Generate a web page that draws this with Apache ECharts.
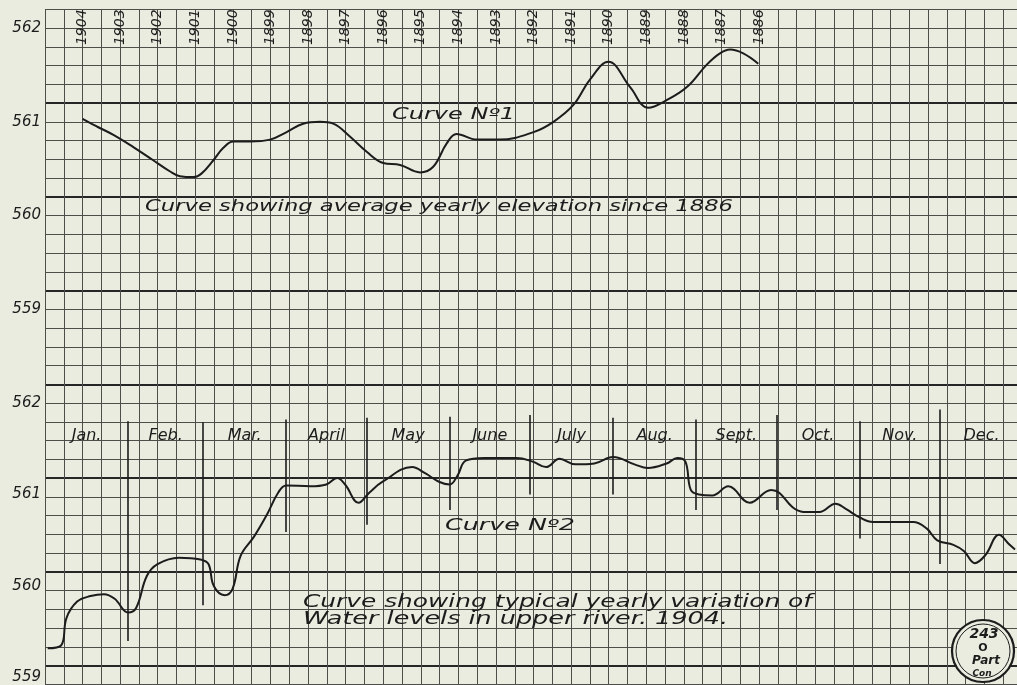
<!DOCTYPE html>
<html>
<head>
<meta charset="utf-8">
<script src="https://cdn.jsdelivr.net/npm/echarts@6/dist/echarts.min.js"></script>
<style>
html,body{margin:0;padding:0;background:#e9ecdf;}
#chart{width:1017px;height:685px;}
</style>
</head>
<body>
<div id="chart"></div>
<script>
// ---------- DATA ----------
const yearTicks = [1904,1903,1902,1901,1900,1899,1898,1897,1896,1895,1894,1893,1892,1891,1890,1889,1888,1887,1886];

const curve1Years = [1904,1903.62,1903.18,1902.65,1902.12,1901.67,1901.41,1901.05,1900.83,1900.52,1900.26,1899.99,1899.55,1899.01,1898.57,1898.13,1897.68,1897.33,1896.88,1896.44,1896.0,1895.55,1895.02,1894.67,1894.31,1894.05,1893.51,1892.89,1892.0,1891.47,1890.94,1890.5,1890.01,1889.43,1888.95,1888.46,1887.92,1887.39,1887.04,1886.77,1886.42,1886.02];
const curve1Values = [561.03,560.95,560.86,560.73,560.59,560.47,560.42,560.41,560.45,560.59,560.72,560.79,560.79,560.81,560.89,560.98,561.0,560.98,560.84,560.68,560.56,560.54,560.46,560.52,560.77,560.87,560.81,560.81,560.89,561.0,561.18,561.45,561.64,561.37,561.15,561.23,561.37,561.61,561.73,561.77,561.73,561.62];

const curve2Days = [1,6,8,12,17,22,26,31,34,38,42,50,58,61,63,67,70,73,78,83,87,90,99,105,109,112,117,121,126,137,142,147,151,154,157,164,176,182,187,192,198,205,212,220,225,232,236,239,241,244,249,255,263,271,274,279,283,289,295,299,304,309,324,329,333,339,343,347,351,356,360,362];
const curve2Values = [559.32,559.35,559.65,559.83,559.89,559.91,559.86,559.71,559.76,560.11,560.24,560.31,560.29,560.24,560.0,559.90,559.97,560.33,560.54,560.79,561.02,561.10,561.09,561.11,561.18,561.11,560.91,561.02,561.14,561.30,561.23,561.14,561.11,561.21,561.37,561.40,561.40,561.36,561.30,561.39,561.33,561.34,561.41,561.33,561.29,561.34,561.40,561.36,561.05,561.0,560.99,561.09,560.91,561.05,561.02,560.86,560.81,560.81,560.90,560.84,560.75,560.70,560.70,560.63,560.50,560.45,560.38,560.25,560.34,560.56,560.45,560.40];

const monthNames = ['Jan.','Feb.','Mar.','April','May','June','July','Aug.','Sept.','Oct.','Nov.','Dec.'];
const monthStartDays = [0,31,59,90,120,151,181,212,243,273,304,334,365];
// month divider strokes (elevation extent of each hand-drawn divider, Feb..Dec)
const dividerTop    = [561.80,561.79,561.82,561.84,561.85,561.87,561.84,561.82,561.87,561.80,561.93];
const dividerBottom = [559.40,559.79,560.59,560.67,560.83,561.00,561.00,560.83,560.83,560.52,560.24];

// ---------- LAYOUT CONSTANTS ----------
const INK = '#1c1c1c';
const FONT = '"DejaVu Sans", sans-serif';
const ROW = 18.75, COL = 18.79;
const LEFT = 45, GRID_TOP = 9.3;
const bgRows = (685 - GRID_TOP) / ROW;
const bgCols = (1017 - LEFT) / COL;

const chart = echarts.init(document.getElementById('chart'), null, {renderer:'canvas'});

const measureCtx = document.createElement('canvas').getContext('2d');
function fitText(text, x, yMid, width, size, weight) {
  const font = `italic ${weight||'normal'} ${size}px ${FONT}`;
  measureCtx.font = font;
  const w = measureCtx.measureText(text).width;
  return {
    type:'text', x:x, y:yMid, scaleX: width / w, silent:true, z:50,
    style:{text:text, font:font, fill:INK, textAlign:'left', textVerticalAlign:'middle', align:'left', verticalAlign:'middle'}
  };
}

const elevLabel = {
  fontSize:15, fontStyle:'italic', color:INK, fontFamily:'DejaVu Sans', margin:4,
  padding:[0,0,6,0],
  formatter: v => Number.isInteger(v) ? String(v) : ''
};

const monthLabelData = monthNames.map((m,i) => [(monthStartDays[i] + monthStartDays[i+1]) / 2, 561.64]);

const option = {
  backgroundColor:'#e9ecdf',
  animation:false,
  grid:[
    {left:LEFT, right:0, top:GRID_TOP, bottom:0},
    {left:LEFT + 2*COL, right:1017 - (LEFT + 38*COL), top:GRID_TOP + ROW, height:15*ROW},
    {left:LEFT, right:0, top:GRID_TOP + 21*ROW, height:15*ROW}
  ],
  xAxis:[
    {gridIndex:0, type:'value', min:0, max:bgCols, interval:1,
     axisLine:{show:false}, axisTick:{show:false}, axisLabel:{show:false},
     splitLine:{show:true, lineStyle:{color:'#4d4d4a', width:1}}},
    {gridIndex:1, type:'value', min:1886, max:1904, interval:1, inverse:true, position:'top', offset:-17,
     axisLine:{show:false}, axisTick:{show:false}, splitLine:{show:false},
     axisLabel:{show:true, rotate:-90, margin:0, fontSize:14, fontStyle:'italic', fontFamily:'DejaVu Sans', color:INK,
       padding:[0,0,8,0],
       formatter: v => yearTicks.indexOf(v) >= 0 ? String(v) : ''}},
    {gridIndex:2, type:'value', min:0, max:(1017 - LEFT) / 2.6796, show:false}
  ],
  yAxis:[
    {gridIndex:0, type:'value', min:0, max:bgRows, interval:1, inverse:true,
     axisLine:{show:false}, axisTick:{show:false}, axisLabel:{show:false},
     splitLine:{show:true, lineStyle:{color:'#4d4d4a', width:1}}},
    {gridIndex:0, type:'value', min:-1, max:bgRows - 1, interval:5, inverse:true,
     axisLine:{show:false}, axisTick:{show:false}, axisLabel:{show:false},
     splitLine:{show:true, showMinLine:false, showMaxLine:false, lineStyle:{color:'#262626', width:1.8}}},
    {gridIndex:1, type:'value', min:559, max:562, interval:1, offset:2*COL,
     axisLine:{show:false}, axisTick:{show:false}, splitLine:{show:false}, axisLabel:elevLabel},
    {gridIndex:2, type:'value', min:559, max:562, interval:1,
     axisLine:{show:false}, axisTick:{show:false}, splitLine:{show:false}, axisLabel:elevLabel}
  ],
  series:[
    {type:'line', xAxisIndex:1, yAxisIndex:2, smooth:0.4, symbol:'none', clip:false,
     lineStyle:{color:INK, width:2},
     data: curve1Years.map((y,i) => [y, curve1Values[i]]), z:10},
    {type:'line', xAxisIndex:2, yAxisIndex:3, smooth:0.4, symbol:'none',
     lineStyle:{color:INK, width:2},
     data: curve2Days.map((d,i) => [d, curve2Values[i]]), z:10,
     markLine:{silent:true, symbol:['none','none'], label:{show:false},
       lineStyle:{color:INK, width:1.6, type:'solid'},
       data: dividerTop.map((t,i) => [{coord:[monthStartDays[i+1], t]}, {coord:[monthStartDays[i+1], dividerBottom[i]]}])}},
    {type:'scatter', xAxisIndex:2, yAxisIndex:3, symbolSize:0, silent:true,
     itemStyle:{opacity:1},
     data: monthLabelData, z:12,
     label:{show:true, position:'inside', fontSize:16, fontStyle:'italic', fontFamily:'DejaVu Sans', color:INK, opacity:1,
       formatter: p => monthNames[p.dataIndex]}}
  ],
  graphic:[
    fitText('Curve N\u00BA1', 392, 115, 123, 15),
    fitText('Curve showing average yearly elevation since 1886', 145, 207, 588, 16),
    fitText('Curve N\u00BA2', 445, 526, 130, 16),
    fitText('Curve showing typical yearly variation of', 303, 603, 509, 17),
    fitText('Water levels in upper river. 1904.', 303, 620, 425, 17),
    {type:'circle', shape:{cx:983, cy:651, r:31}, style:{fill:'#e9ecdf', stroke:INK, lineWidth:2.2}, z:40, silent:true},
    {type:'circle', shape:{cx:983, cy:651, r:27}, style:{fill:'none', stroke:INK, lineWidth:1}, z:41, silent:true},
    {type:'text', x:984, y:634, z:42, silent:true, style:{text:'243', font:'italic bold 14px '+FONT, fill:INK, textAlign:'center', textVerticalAlign:'middle', align:'center', verticalAlign:'middle'}},
    {type:'text', x:983, y:648, z:42, silent:true, style:{text:'O', font:'bold 11px '+FONT, fill:INK, textAlign:'center', textVerticalAlign:'middle', align:'center', verticalAlign:'middle'}},
    {type:'text', x:986, y:661, z:42, silent:true, style:{text:'Part', font:'italic bold 12px '+FONT, fill:INK, textAlign:'center', textVerticalAlign:'middle', align:'center', verticalAlign:'middle'}},
    {type:'text', x:982, y:674, z:42, silent:true, style:{text:'Con', font:'italic bold 9px '+FONT, fill:INK, textAlign:'center', textVerticalAlign:'middle', align:'center', verticalAlign:'middle'}}
  ]
};
chart.setOption(option);
</script>
</body>
</html>
